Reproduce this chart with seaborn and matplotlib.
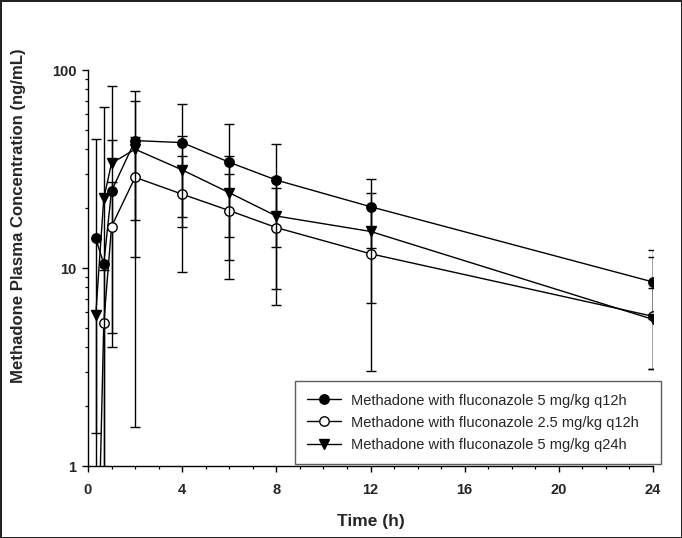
import numpy as np
import pandas as pd
import matplotlib
matplotlib.use("Agg")
import matplotlib.pyplot as plt
import seaborn as sns
from matplotlib.ticker import LogLocator, NullFormatter, MultipleLocator

nan = np.nan

# ---- data ----
time_h = [0.33, 0.67, 1, 2, 4, 6, 8, 12, 24]

labels = [
    "Methadone with fluconazole 5 mg/kg q12h",
    "Methadone with fluconazole 2.5 mg/kg q12h",
    "Methadone with fluconazole 5 mg/kg q24h",
]

# 5 mg/kg q12h (filled circles); error-bar ends (nan = no bar drawn on that side)
f5q12_mean = [14.1, 10.5, 24.5, 44.0, 43.0, 34.2, 27.8, 20.4, 8.5]
f5q12_hi = [44.8, nan, 44.3, 70.0, 67.1, 53.4, 42.3, 28.0, 11.4]
f5q12_lo = [0.01, nan, 4.71, 17.5, 18.0, 14.4, 12.7, 12.6, 5.5]

# 2.5 mg/kg q12h (open circles)
f25q12_mean = [0.1, 5.25, 16.2, 28.7, 23.6, 19.5, 16.0, 11.8, 5.7]
f25q12_hi = [nan, 9.8, 27.3, 46.0, 36.9, 29.7, 25.3, 20.6, 12.4]
f25q12_lo = [nan, 0.7, 3.98, 11.4, 9.6, 8.8, 6.5, 3.03, 3.08]

# 5 mg/kg q24h (filled down-triangles)
f5q24_mean = [5.8, 22.5, 33.8, 39.8, 31.3, 24.0, 18.3, 15.3, 5.5]
f5q24_hi = [nan, 65.3, 83.0, 78.3, 46.6, 36.9, 28.7, 24.0, 7.9]
f5q24_lo = [1.46, 0.01, nan, 1.58, 16.2, 11.0, 7.86, 6.63, 3.08]

# ---- style ----
sns.set_style("ticks")
plt.rcParams["font.family"] = ["Liberation Sans", "DejaVu Sans"]

fig = plt.figure(figsize=(6.82, 5.38), dpi=100)
fig.patch.set_edgecolor("#222222")
fig.patch.set_linewidth(2)

W, H = 682, 538
ax = fig.add_axes([88 / W, (H - 466) / H, (653 - 88) / W, (466 - 70) / H])

series = [
    (f5q12_mean, f5q12_lo, f5q12_hi, "o", "black", labels[0]),
    (f25q12_mean, f25q12_lo, f25q12_hi, "o", "white", labels[1]),
    (f5q24_mean, f5q24_lo, f5q24_hi, "v", "black", labels[2]),
]

CAP = 7.4  # cap width in points
t = np.array(time_h, dtype=float)
for i, (mean, lo, hi, mk, fc, lab) in enumerate(series):
    m = np.array(mean, dtype=float)
    lo_a = np.array(lo, dtype=float)
    hi_a = np.array(hi, dtype=float)
    ymin = np.where(np.isnan(lo_a), m, lo_a)
    ymax = np.where(np.isnan(hi_a), m, hi_a)
    ax.vlines(t, ymin, ymax, colors="black", linewidth=1.0, zorder=2 * i + 1)
    for ends in (lo_a, hi_a):
        ax.plot(t, ends, linestyle="none", marker="_", markersize=CAP,
                markeredgewidth=1.0, color="black", zorder=2 * i + 1)
    df = pd.DataFrame({"Time": t, "Conc": m})
    sns.lineplot(data=df, x="Time", y="Conc", ax=ax, color="black", lw=1.0,
                 marker=mk, markersize=6.8 if mk == "o" else 7.2,
                 markerfacecolor=fc, markeredgecolor="black",
                 markeredgewidth=1.0, errorbar=None, sort=False,
                 label=lab, zorder=2 * i + 2, legend=False)

ax.set_yscale("log")
ax.set_ylim(1, 100)
ax.set_xlim(0, 24)

ax.set_yticks([1, 10, 100], labels=["1", "10", "100"], fontweight="bold", fontsize=10.5)
ax.yaxis.set_minor_locator(LogLocator(base=10, subs=np.arange(2, 10)))
ax.yaxis.set_minor_formatter(NullFormatter())
ax.set_xticks(np.arange(0, 25, 4), labels=[str(v) for v in range(0, 25, 4)],
              fontweight="bold", fontsize=10.5)
ax.xaxis.set_minor_locator(MultipleLocator(1))

ax.tick_params(which="major", direction="out", length=4.5, width=1.0, color="black")
ax.tick_params(which="minor", direction="out", length=2.5, width=0.9, color="black")
ax.tick_params(axis="x", which="major", pad=8)
ax.tick_params(axis="y", which="major", pad=4)

for s in ["top", "right"]:
    ax.spines[s].set_visible(False)
for s in ["left", "bottom"]:
    ax.spines[s].set_linewidth(1.0)
    ax.spines[s].set_color("black")

ax.set_xlabel("Time (h)", fontsize=12.5, fontweight="bold", labelpad=12)
ax.set_ylabel("Methadone Plasma Concentration (ng/mL)", fontsize=12.1,
              fontweight="bold")
ax.yaxis.set_label_coords((26 - 88) / (653 - 88), (466 - 216) / (466 - 70))

leg = ax.legend(loc="lower left",
                bbox_to_anchor=(295 / W, (H - 464) / H, (661 - 295) / W, (464 - 381) / H),
                bbox_transform=fig.transFigure, mode="expand",
                borderaxespad=0, frameon=True, fancybox=False,
                fontsize=10.5, handlelength=2.3, handletextpad=0.7,
                labelspacing=0.55, borderpad=0.85)
leg.get_frame().set_edgecolor("#333333")
leg.get_frame().set_linewidth(1.0)
leg.set_zorder(20)

fig.savefig("out.png", dpi=100, edgecolor=fig.get_edgecolor())
